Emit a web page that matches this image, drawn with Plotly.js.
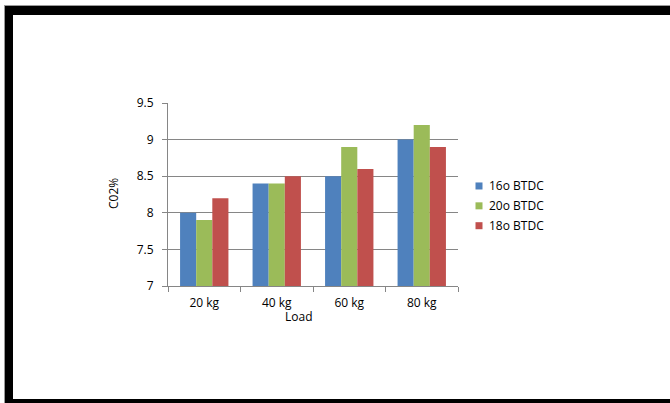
<!DOCTYPE html>
<html>
<head>
<meta charset="utf-8">
<script src="https://cdn.plot.ly/plotly-3.0.1.min.js"></script>
<style>
  html, body { margin: 0; padding: 0; background: #fff; }
  #wrap { position: relative; width: 670px; height: 403px; overflow: hidden; background: #fff; }
  #chart { position: absolute; left: 0; top: 0; width: 670px; height: 403px; }
  #frame {
    position: absolute; left: 5px; top: 6px; width: 720px; height: 384px;
    border-left: 8px solid #000; border-top: 9px solid #000; border-bottom: 8px solid #000;
    outline: 1px solid #9a9a9a; pointer-events: none;
  }
</style>
</head>
<body>
<div id="wrap">
  <div id="chart"></div>
  <div id="frame"></div>
</div>
<script>
// Load categories and CO2 readings for each injection timing
const loads = ['20 kg', '40 kg', '60 kg', '80 kg'];
const seriesNames = ['16o BTDC', '20o BTDC', '18o BTDC'];
const co2_16 = [8.0, 8.4, 8.5, 9.0];
const co2_20 = [7.9, 8.4, 8.9, 9.2];
const co2_18 = [8.2, 8.5, 8.6, 8.9];
const yTicks = [7, 7.5, 8, 8.5, 9, 9.5];
const yTickText = ['7', '7.5', '8', '8.5', '9', '9.5'];

const colors = ['#4F81BD', '#9BBB59', '#C0504D'];
const values = [co2_16, co2_20, co2_18];
const FONT = '"Open Sans", Lato, "DejaVu Sans", sans-serif';
const FS = 12;

// plot area in pixels
const L = 168, T = 103.3, W = 290, H = 182.4;
const px2x = p => (p - L) / W;
const px2y = p => (T + H - p) / H;

const traces = seriesNames.map((name, i) => ({
  type: 'bar',
  name: name,
  x: loads,
  y: values[i],
  marker: { color: colors[i] },
  showlegend: false,
  hoverinfo: 'x+y+name'
}));

// hand-placed legend: small square swatch plus label per series
const shapes = [];
const annotations = [];
seriesNames.forEach((name, i) => {
  const cy = 186 + i * 19.8;
  shapes.push({
    type: 'rect', xref: 'paper', yref: 'paper',
    x0: px2x(475.5), x1: px2x(482.5), y0: px2y(cy + 3.5), y1: px2y(cy - 3.5),
    fillcolor: colors[i], line: { width: 0 }
  });
  annotations.push({
    xref: 'paper', yref: 'paper', x: px2x(486.5), y: px2y(cy),
    xanchor: 'left', yanchor: 'middle', showarrow: false,
    text: name, font: { family: FONT, size: FS, color: '#000' }
  });
});

// axis titles
annotations.push({
  xref: 'paper', yref: 'paper', x: px2x(299), y: px2y(316),
  xanchor: 'center', yanchor: 'middle', showarrow: false,
  text: 'Load', font: { family: FONT, size: FS, color: '#000' }
});
annotations.push({
  xref: 'paper', yref: 'paper', x: px2x(114), y: px2y(194),
  xanchor: 'center', yanchor: 'middle', showarrow: false, textangle: -90,
  text: 'C02%', font: { family: FONT, size: FS, color: '#000' }
});

const layout = {
  width: 670, height: 403,
  margin: { l: L, r: 670 - L - W, t: T, b: 403 - T - H, pad: 0 },
  paper_bgcolor: 'rgba(0,0,0,0)',
  plot_bgcolor: 'rgba(0,0,0,0)',
  barmode: 'group',
  bargap: 0.333,
  bargroupgap: 0,
  showlegend: false,
  font: { family: FONT, size: FS, color: '#000' },
  xaxis: {
    type: 'category',
    showgrid: false,
    showline: true, linecolor: '#868686', linewidth: 1,
    ticks: 'outside', tickson: 'boundaries', ticklen: 5, tickcolor: '#868686',
    ticklabelstandoff: 6,
    tickfont: { family: FONT, size: FS, color: '#000' },
    zeroline: false, fixedrange: true
  },
  yaxis: {
    range: [7, 9.5],
    tickvals: yTicks, ticktext: yTickText,
    showgrid: true, gridcolor: '#868686', gridwidth: 1,
    showline: true, linecolor: '#868686', linewidth: 1,
    ticks: 'outside', ticklen: 5, tickcolor: '#868686',
    ticklabelstandoff: 6,
    tickfont: { family: FONT, size: FS, color: '#000' },
    zeroline: false, fixedrange: true
  },
  shapes: shapes,
  annotations: annotations
};

Plotly.newPlot('chart', traces, layout, { displayModeBar: false, staticPlot: true });
</script>
</body>
</html>
